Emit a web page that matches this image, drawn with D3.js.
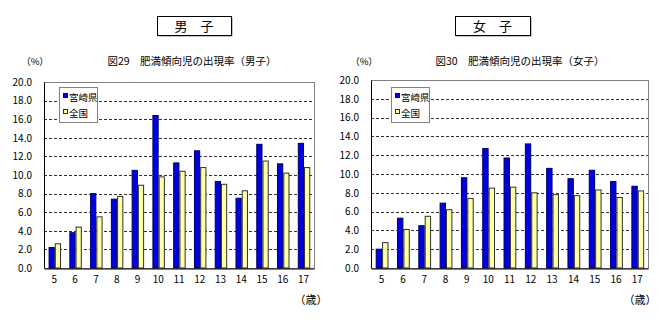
<!DOCTYPE html>
<html><head><meta charset="utf-8">
<script src="https://cdn.jsdelivr.net/npm/d3@7"></script>
<style>
body{margin:0;background:#fff;}
text{font-family:"Noto Sans CJK JP","MS Gothic",sans-serif;fill:#000;}
</style></head>
<body><svg id="c" width="660" height="325"></svg>
<script>
const ages = ["5","6","7","8","9","10","11","12","13","14","15","16","17"];
const seriesNames = ["宮崎県","全国"];
const boysMiyazaki = [2.2,3.8,8.0,7.4,10.5,16.4,11.3,12.6,9.3,7.5,13.3,11.2,13.4];
const boysNational = [2.6,4.4,5.5,7.7,8.9,9.8,10.4,10.8,9.0,8.3,11.5,10.2,10.8];
const girlsMiyazaki = [2.0,5.3,4.5,6.9,9.6,12.7,11.7,13.2,10.6,9.5,10.4,9.2,8.7];
const girlsNational = [2.7,4.1,5.5,6.2,7.4,8.5,8.6,8.0,7.8,7.7,8.3,7.5,8.2];
const yTicks = [0,2,4,6,8,10,12,14,16,18,20];
const headers = ["男　子","女　子"];
const titles = ["図29　肥満傾向児の出現率（男子）","図30　肥満傾向児の出現率（女子）"];

const colors = ["#0000e0","#ffffa8"];
const strokes = ["#000060","#303030"];
const svg = d3.select("#c");

function drawChart(cfg){
  const g = svg.append("g");
  g.append("rect").attr("x",cfg.hx+1.5).attr("y",17.5).attr("width",cfg.hw).attr("height",19).attr("fill","#888");
  g.append("rect").attr("x",cfg.hx+0.5).attr("y",16.5).attr("width",cfg.hw).attr("height",19).attr("fill","#fff").attr("stroke","#000");
  g.append("text").attr("x",cfg.hx+cfg.hw/2).attr("y",31).attr("text-anchor","middle").attr("font-size",13).text(cfg.header);
  g.append("text").attr("x",cfg.tx).attr("y",65).attr("text-anchor","middle").attr("font-size",10.5).text(cfg.title);
  g.append("text").attr("x",cfg.px).attr("y",65).attr("text-anchor","middle").attr("font-size",9.5).text("（%）");

  const y = d3.scaleLinear().domain([0,20]).range([cfg.y1,cfg.y0]);
  const x = d3.scaleBand().domain(ages).range([cfg.x0,cfg.x1]).padding(0);
  const xs = d3.scaleBand().domain(seriesNames).range([x.bandwidth()*0.22,x.bandwidth()*0.82]).padding(0);

  g.append("g").selectAll("line").data(yTicks.filter(t=>t>0&&t<20)).join("line")
    .attr("x1",cfg.x0).attr("x2",cfg.x1).attr("y1",d=>Math.round(y(d))+0.5).attr("y2",d=>Math.round(y(d))+0.5)
    .attr("stroke","#333").attr("stroke-dasharray","3,2").attr("stroke-width",1);
  g.append("rect").attr("x",cfg.x0+0.5).attr("y",Math.round(y(20))+0.5).attr("width",cfg.x1-cfg.x0).attr("height",Math.round(y(0))-Math.round(y(20)))
    .attr("fill","none").attr("stroke","#808080");

  const data = ages.map((a,i)=>({age:a,vals:[cfg.m[i],cfg.n[i]]}));
  const grp = g.append("g").selectAll("g").data(data).join("g").attr("transform",d=>`translate(${x(d.age)},0)`);
  grp.selectAll("rect").data(d=>d.vals.map((v,k)=>({v,k}))).join("rect")
    .attr("x",d=>xs(seriesNames[d.k])+0.5).attr("width",xs.bandwidth()-1)
    .attr("y",d=>y(d.v)).attr("height",d=>y(0)-y(d.v))
    .attr("fill",d=>colors[d.k]).attr("stroke",d=>strokes[d.k]).attr("stroke-width",1);

  const ya = g.append("g").attr("transform",`translate(${cfg.x0},0)`)
    .call(d3.axisLeft(y).tickValues(yTicks).tickFormat(d3.format(".1f")).tickSize(0).tickPadding(cfg.yPad));
  ya.select(".domain").attr("stroke","#000");
  ya.selectAll("text").attr("font-size",10).style("font-family",'"Noto Sans CJK JP",sans-serif');
  const xa = g.append("g").attr("transform",`translate(0,${Math.round(y(0))+0.5})`)
    .call(d3.axisBottom(x).tickSize(0).tickPadding(7));
  xa.select(".domain").attr("stroke","#000");
  xa.selectAll("text").attr("font-size",10).style("font-family",'"Noto Sans CJK JP",sans-serif');

  g.append("text").attr("x",cfg.ux).attr("y",304).attr("text-anchor","middle").attr("font-size",11).text("（歳）");

  const lg = g.append("g");
  lg.append("rect").attr("x",cfg.lx+0.5).attr("y",87.5).attr("width",38).attr("height",35).attr("fill","#fff").attr("stroke","#808080");
  seriesNames.forEach((s,k)=>{
    const yy = 97 + k*16;
    lg.append("rect").attr("x",cfg.lx+4.5).attr("y",yy-3.5).attr("width",4).attr("height",4).attr("fill",colors[k]).attr("stroke",strokes[k]);
    lg.append("text").attr("x",cfg.lx+10).attr("y",yy+4).attr("font-size",9.5).text(s);
  });
}

drawChart({x0:44,x1:314,y0:82,y1:268,hx:157,hw:74,header:headers[0],tx:192,title:titles[0],px:35,m:boysMiyazaki,n:boysNational,ux:311,lx:59,yPad:12});
drawChart({x0:371,x1:648,y0:80,y1:268,hx:455,hw:75,header:headers[1],tx:520,title:titles[1],px:364,m:girlsMiyazaki,n:girlsNational,ux:640,lx:391,yPad:12});
</script></body></html>
